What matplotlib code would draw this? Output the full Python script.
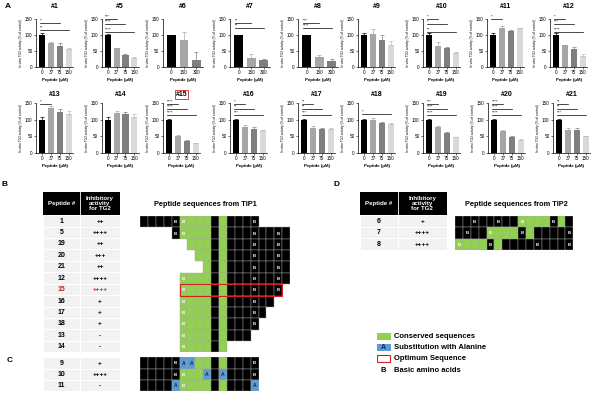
import matplotlib.pyplot as plt
from matplotlib.patches import Rectangle

plt.rcParams['font.family'] = ['Liberation Sans', 'DejaVu Sans']

W, H = 600, 399

# ---- panel A data: in vitro TG2 activity (% of control) ----
doses4 = ["0", "37", "75", "150"]
doses3 = ["0", "150", "300"]

row1_names = ["#1", "#5", "#6", "#7", "#8", "#9", "#10", "#11", "#12"]
row1_means = [[100, 76, 66, 55], [100, 58, 36, 29], [100, 85, 21], [100, 26, 21],
              [100, 30, 18], [100, 103, 84, 68], [100, 66, 58, 44],
              [100, 123, 114, 122], [100, 68, 55, 35]]
row1_errs = [[6, 2, 8, 4], [3, 2, 4, 1], [1, 25, 25], [1, 14, 3], [1, 7, 6],
             [7, 17, 15, 13], [6, 13, 5, 2], [6, 5, 3, 2], [6, 2, 7, 6]]
# (bar compared with control, stars, line height)
row1_sig = [[(2, "*", 137), (3, "**", 116)],
            [(1, "***", 151), (2, "****", 134), (3, "****", 111)],
            [],
            [(1, "**", 139), (2, "**", 123)],
            [(1, "***", 137), (2, "****", 121)],
            [],
            [(1, "*", 150), (2, "*", 134), (3, "**", 111)],
            [(1, "*", 150)],
            [(1, "*", 150), (2, "***", 134), (3, "****", 111)]]

row2_names = ["#13", "#14", "#15", "#16", "#17", "#18", "#19", "#20", "#21"]
row2_means = [[100, 136, 123, 119], [100, 122, 117, 108], [100, 52, 36, 28],
              [100, 79, 73, 68], [100, 76, 73, 72], [100, 100, 90, 88],
              [100, 77, 60, 47], [100, 67, 49, 39], [100, 70, 68, 50]]
row2_errs = [[8, 5, 10, 8], [8, 5, 8, 8], [2, 3, 3, 1], [2, 5, 4, 2], [2, 4, 3, 2],
             [2, 4, 3, 1], [2, 4, 2, 2], [2, 2, 1, 2], [2, 5, 7, 2]]
row2_sig = [[(1, "*", 147)],
            [],
            [(1, "****", 148), (2, "****", 132), (3, "****", 114)],
            [(1, "*", 148), (2, "**", 132), (3, "***", 114)],
            [(1, "**", 148), (2, "**", 132), (3, "***", 114)],
            [(3, "*", 117)],
            [(1, "***", 148), (2, "****", 132), (3, "****", 114)],
            [(1, "****", 148), (2, "****", 132), (3, "****", 114)],
            [(1, "**", 148), (2, "**", 132), (3, "***", 114)]]

# ---- panels B/C/D data ----
tip1_ids = ["1", "5", "19", "20", "21", "12", "15", "16", "17", "18", "13", "14"]
tip1_act = ["++", "++++", "++", "+++", "++", "++++", "++++", "+", "+", "+", "-", "-"]
# k = other residue, B = basic, g = conserved, b = conserved basic, A = alanine
tip1_seq = ["kkkkBbgggkgkkkB    ",
            "    BbgggkgkkkBkkBk",
            "      gggkgkkkBkkBk",
            "       ggkgkkkBkkBk",
            "        gkgkkkBkkBk",
            "     bgggkgkkkBkkBk",
            "     bgggkgkkkBkkB ",
            "     bgggkgkkkBkk  ",
            "     bgggkgkkkBk   ",
            "     bgggkgkkkB    ",
            "     bgggkgkkk     ",
            "     bgggkg        "]
ala_ids = ["9", "10", "11"]
ala_act = ["+", "++++", "-"]
ala_seq = ["kkkkBAAggkgkkkB",
           "kkkkBbggAkAkkkB",
           "kkkkAbgggkgkkkA"]
tip2_ids = ["6", "7", "8"]
tip2_act = ["+", "++++", "++++"]
tip2_seq = ["kkBkkBkkbgggBgk",
            "kBkkbgggBgkkkkB",
            "bgggBgkkkkBkkkB"]
legend_labels = ["Conserved sequences", "Substitution with Alanine",
                 "Optimum Sequence", "Basic amino acids"]

GREEN = "#92d050"
BLUE = "#5b9bd5"
RED = "#d42020"
bar_cols4 = ["#000000", "#a6a6a6", "#7f7f7f", "#d9d9d9"]
bar_cols3 = ["#000000", "#a6a6a6", "#7f7f7f"]

fig = plt.figure(figsize=(6, 3.99), dpi=100)


def px_axes(x0, y0, x1, y1):
    return fig.add_axes([x0 / W, 1 - y1 / H, (x1 - x0) / W, (y1 - y0) / H])


def ftext(x, y, s, **kw):
    fig.text(x / W, 1 - y / H, s, **kw)


def bar_panel(ax, name, means, errs, sig, title_pad):
    n = len(means)
    labels = doses4 if n == 4 else doses3
    cols = bar_cols4 if n == 4 else bar_cols3
    xs = list(range(n))
    ax.bar(xs, means, width=0.7, color=cols)
    for x, m, e, c in zip(xs, means, errs, cols):
        ax.errorbar(x, m, yerr=[[0], [e]], fmt="none", ecolor=c if c != "#d9d9d9" else "#bbbbbb",
                    elinewidth=0.5, capsize=1.2, capthick=0.5)
    for k, stars, y in sig:
        ax.plot([-0.3, k], [y, y], color="black", lw=0.5, clip_on=False)
        ax.text(-0.3, y + 1, stars, fontsize=3, ha="left", va="bottom", clip_on=False)
    ax.set_xlim(-0.7, n - 0.5)
    ax.set_ylim(0, 150)
    ax.set_yticks([0, 50, 100, 150])
    ax.set_xticks(xs)
    ax.set_xticklabels(labels)
    for s in ["top", "right"]:
        ax.spines[s].set_visible(False)
    for s in ["left", "bottom"]:
        ax.spines[s].set_linewidth(0.5)
    ax.tick_params(labelsize=3.3, length=1.5, width=0.4, pad=1)
    ax.set_xlabel("Peptide (\u03bcM)", fontsize=3.2, fontweight="bold", labelpad=2)
    ax.set_ylabel("In vitro TG2 activity (% of control)", fontsize=2.3, labelpad=1.5)
    if name == "#15":
        ax.set_title(name, fontsize=5, fontweight="bold", pad=title_pad,
                     bbox=dict(boxstyle="square,pad=0.15", fc="none", ec=RED, lw=0.6))
    else:
        ax.set_title(name, fontsize=5, fontweight="bold", pad=title_pad)


row1_x = [36, 101.7, 162.7, 230, 298, 358, 423, 487, 550]
row2_x = [36, 101.7, 163, 230, 298, 358, 423, 488, 553]
for i in range(9):
    w = 37 if len(row1_means[i]) == 4 else 40
    ax = px_axes(row1_x[i], 19.3, row1_x[i] + w, 66.7)
    bar_panel(ax, row1_names[i], row1_means[i], row1_errs[i], row1_sig[i], 7.8)
    ax = px_axes(row2_x[i], 103.3, row2_x[i] + 37, 152.7)
    bar_panel(ax, row2_names[i], row2_means[i], row2_errs[i], row2_sig[i], 5)


def draw_table(ax, ids, acts, div, header, red_id=None):
    n = len(ids)
    hdr = 2.05 if header else 0
    ax.set_xlim(0, 1)
    ax.set_ylim(n, -hdr)
    ax.axis("off")
    c0, c1 = div / 2, (1 + div) / 2
    for i, (pid, act) in enumerate(zip(ids, acts)):
        ax.add_patch(Rectangle((0, i), 1, 1, fc="#f2f2f2", ec="white", lw=0.8))
        ax.plot([div, div], [i, i + 1], color="white", lw=0.8)
        col = RED if pid == red_id else "black"
        ax.text(c0, i + 0.52, pid, color=col, fontsize=5, fontweight="bold",
                ha="center", va="center")
        ax.text(c1, i + 0.52, act, color=col, fontsize=4.5, fontweight="bold",
                ha="center", va="center")
    if header:
        ax.add_patch(Rectangle((0, -hdr), 1, hdr, fc="black", ec="none"))
        ax.plot([div, div], [-hdr, 0], color="white", lw=0.6)
        ax.text(c0, -hdr / 2, "Peptide #", color="white", fontsize=4.4,
                fontweight="bold", ha="center", va="center")
        ax.text(c1, -hdr / 2, "Inhibitory\nactivity\nfor TG2", color="white",
                fontsize=4.4, fontweight="bold", ha="center", va="center",
                linespacing=1.05)


def draw_seq(ax, rows, ncols):
    ax.set_xlim(0, ncols)
    ax.set_ylim(len(rows), 0)
    ax.axis("off")
    fills = {"k": "black", "B": "black", "g": GREEN, "b": GREEN, "A": BLUE}
    for r, row in enumerate(rows):
        for c, ch in enumerate(row):
            if ch == " ":
                continue
            ax.add_patch(Rectangle((c, r), 1, 1, fc=fills[ch], ec="#a8a8a8", lw=0.3))
            if ch in "Bb":
                ax.text(c + 0.5, r + 0.55, "B", color="white", fontsize=3.2,
                        fontweight="bold", ha="center", va="center")
            elif ch == "A":
                ax.text(c + 0.5, r + 0.55, "A", color="#0d2550", fontsize=3.6,
                        fontweight="bold", ha="center", va="center")


# panel B
ax = px_axes(43.3, 191.7, 120, 352.3)
draw_table(ax, tip1_ids, tip1_act, 0.478, True, red_id="15")
ax = px_axes(140, 216, 140 + 19 * 7.9, 352.3)
draw_seq(ax, tip1_seq, 19)
ax.add_patch(Rectangle((5, tip1_ids.index("15")), 13, 1, fill=False, ec=RED, lw=0.8))

# panel C
ax = px_axes(43.3, 357.3, 120, 391)
draw_table(ax, ala_ids, ala_act, 0.478, False)
ax = px_axes(140, 357.3, 140 + 15 * 7.9, 391)
draw_seq(ax, ala_seq, 15)

# panel D
ax = px_axes(360, 191.7, 446.7, 250)
draw_table(ax, tip2_ids, tip2_act, 0.438, True)
ax = px_axes(455, 215.7, 573.3, 250)
draw_seq(ax, tip2_seq, 15)

# legend
ax = px_axes(376.7, 330.5, 500, 375.7)
ax.set_xlim(0, 123.3 / 14)
ax.set_ylim(4, 0)
ax.axis("off")
bh = 0.62
ax.add_patch(Rectangle((0, 0.5 - bh / 2), 1, bh, fc=GREEN, ec="none"))
ax.add_patch(Rectangle((0, 1.5 - bh / 2), 1, bh, fc=BLUE, ec="none"))
ax.text(0.5, 1.52, "A", color="#0d2550", fontsize=5, fontweight="bold", ha="center", va="center")
ax.add_patch(Rectangle((0.05, 2.5 - bh / 2), 0.9, bh, fill=False, ec=RED, lw=0.8))
ax.text(0.5, 3.52, "B", color="black", fontsize=5.5, fontweight="bold", ha="center", va="center")
for i, lab in enumerate(legend_labels):
    ax.text(1.24, i + 0.52, lab, fontsize=5.5, fontweight="bold", ha="left", va="center")

# titles and panel letters
ftext(205, 204, "Peptide sequences from TIP1", fontsize=5.3, fontweight="bold",
      ha="center", va="center")
ftext(516, 204, "Peptide sequences from TIP2", fontsize=5.3, fontweight="bold",
      ha="center", va="center")
ftext(8, 6, "A", fontsize=6, fontweight="bold", ha="center", va="center")
ftext(5, 185, "B", fontsize=6, fontweight="bold", ha="center", va="center")
ftext(10, 361, "C", fontsize=6, fontweight="bold", ha="center", va="center")
ftext(337, 185, "D", fontsize=6, fontweight="bold", ha="center", va="center")

fig.savefig("out.png", dpi=100)
